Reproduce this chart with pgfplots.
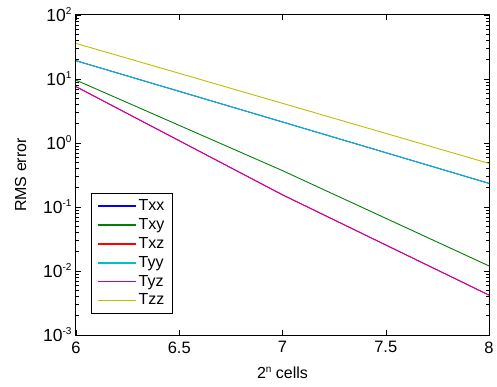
\documentclass[border=0pt]{standalone}
\usepackage{pgfplots}
\pgfplotsset{compat=1.18}
\usepackage{fontspec}
\setmainfont{Liberation Sans}
\definecolor{mblue}{rgb}{0,0,1}
\definecolor{mgreen}{rgb}{0,0.5,0}
\definecolor{mred}{rgb}{1,0,0}
\definecolor{mcyan}{rgb}{0,0.75,0.75}
\definecolor{mmag}{rgb}{0.75,0,0.75}
\definecolor{myel}{rgb}{0.75,0.75,0}
\newcommand{\supx}[1]{\raisebox{0.75ex}{\fontsize{10}{11}\selectfont #1}}
\begin{document}
\fontsize{16}{18}\selectfont
\begin{tikzpicture}[x=1pt,y=1pt]
\useasboundingbox (-76pt,-52pt) rectangle (421pt,335pt);
\begin{axis}[
  at={(0,0)}, anchor=south west,
  scale only axis, width=413pt, height=320pt,
  ymode=log, xmin=6, xmax=8, ymin=1e-3, ymax=1e2,
  xtick={6,6.5,7,7.5,8},
  xticklabels={6,6.5,7,7.5,8},
  ytick={1e-3,1e-2,1e-1,1e0,1e1,1e2},
  yticklabels={10\supx{-3},10\supx{-2},10\supx{-1},10\supx{0},10\supx{1},10\supx{2}},
  tick align=inside, tick pos=both,
  major tick length=5pt, minor tick length=3pt,
  axis line style={line width=1pt},
  every tick/.style={black, line width=0.5pt},
  /pgf/number format/assume math mode=true,
  tick label style={font=\fontsize{16.5}{18}\selectfont},
  yticklabel style={font=\fontsize{17.5}{19}\selectfont, xshift=1pt},
  xticklabel style={yshift=-1pt},
  label style={font=\fontsize{16}{18}\selectfont},
  xlabel={2\supx{n} cells},
  ylabel={RMS error},
  xlabel style={yshift=-3pt},
  ylabel style={yshift=6pt},
  legend style={at={(0.036,0.066)}, anchor=south west, draw=black, line width=1pt,
    font=\fontsize{16}{18}\selectfont, row sep=1.5pt, inner xsep=6pt, inner ysep=4pt},
  legend cell align=left,
  legend image code/.code={\draw[#1, line width=1.3pt] (0pt,0pt) -- (38pt,0pt);},
  every axis plot/.append style={line width=0.9pt},
]
\addplot[mblue] coordinates {(6,19.3) (7,2.13) (8,0.234)};
\addlegendentry{Txx}
\addplot[mgreen] coordinates {(6,9.6) (7,0.37) (8,0.012)};
\addlegendentry{Txy}
\addplot[mred] coordinates {(6,7.6) (7,0.155) (8,0.0042)};
\addlegendentry{Txz}
\addplot[mcyan] coordinates {(6,19.3) (7,2.13) (8,0.234)};
\addlegendentry{Tyy}
\addplot[mmag] coordinates {(6,7.6) (7,0.155) (8,0.0042)};
\addlegendentry{Tyz}
\addplot[myel] coordinates {(6,36) (7,4.17) (8,0.48)};
\addlegendentry{Tzz}
\end{axis}
\end{tikzpicture}
\end{document}
